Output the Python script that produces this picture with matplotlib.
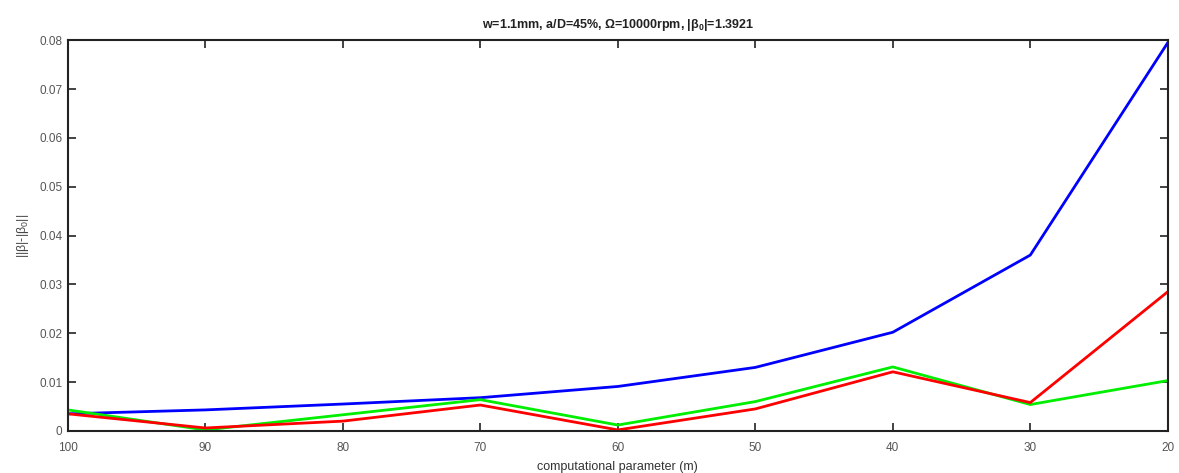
import matplotlib
matplotlib.use("Agg")
import matplotlib.pyplot as plt

x_vals = [100, 90, 80, 70, 60, 50, 40, 30, 20]
blue_vals = [0.0035, 0.0043, 0.0055, 0.0068, 0.0091, 0.0130, 0.0202, 0.0360, 0.0795]
red_vals = [0.0035, 0.0006, 0.0020, 0.0053, 0.0002, 0.0045, 0.0121, 0.0058, 0.0285]
green_vals = [0.0043, 0.0002, 0.0033, 0.0064, 0.0012, 0.0060, 0.0131, 0.0054, 0.0103]
x_ticks = [100, 90, 80, 70, 60, 50, 40, 30, 20]
y_ticks = [0, 0.01, 0.02, 0.03, 0.04, 0.05, 0.06, 0.07, 0.08]
y_tick_labels = ["0", "0.01", "0.02", "0.03", "0.04", "0.05", "0.06", "0.07", "0.08"]

plt.rcParams['font.family'] = ['Liberation Sans', 'DejaVu Sans']
plt.rcParams['mathtext.default'] = 'regular'

fig = plt.figure(figsize=(11.79, 4.73), dpi=100)
ax = fig.add_axes([0.0575, 0.089, 0.933, 0.826])

ax.plot(x_vals, blue_vals, color='#0000ff', lw=2)
ax.plot(x_vals, green_vals, color='#00ee00', lw=2)
ax.plot(x_vals, red_vals, color='#ff0000', lw=2)

ax.set_xlim(100, 20)
ax.set_ylim(0, 0.08)
ax.set_xticks(x_ticks)
ax.set_xticklabels([str(v) for v in x_ticks])
ax.set_yticks(y_ticks)
ax.set_yticklabels(y_tick_labels)
ax.tick_params(direction='in', top=True, right=True, length=6, width=1.2,
               labelsize=8.5, labelcolor='#555555', color='#222222', pad=4)
ax.tick_params(axis='x', pad=8)
for s in ax.spines.values():
    s.set_linewidth(1.5)
    s.set_color('#222222')

ax.set_title("w=1.1mm, a/D=45%, Ω=10000rpm, |β$_0$|=1.3921",
             fontsize=9, fontweight='bold', color='#222222', pad=9)
ax.set_xlabel("computational parameter (m)", fontsize=9, color='#333333', labelpad=5)
ax.set_ylabel("||β|-|β$_0$||", fontsize=9, color='#444444', labelpad=6)

fig.savefig("out.png", dpi=100)
